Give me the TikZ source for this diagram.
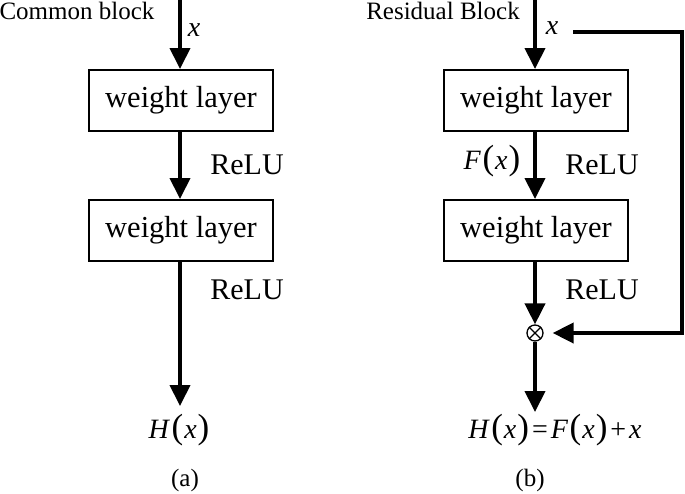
\documentclass[tikz,border=0pt]{standalone}
\usepackage{fontspec}
\setmainfont{Liberation Serif}
\usetikzlibrary{arrows.meta}
\newcommand{\bigpar}[1]{{\fontsize{35}{35}\selectfont #1}}
\newcommand{\fofx}[1]{\textit{#1}\hspace{1.5pt}\bigpar{(}\hspace{1pt}\textit{x}\hspace{1pt}\bigpar{)}}
\begin{document}
\begin{tikzpicture}[x=1pt,y=-1pt,
  layerbox/.style={draw,line width=2pt,minimum width=184pt,minimum height=61pt,inner sep=0pt,font=\fontsize{30.5}{30.5}\selectfont},
  lbl/.style={inner sep=0pt,font=\fontsize{30}{30}\selectfont},
  mlbl/.style={inner sep=0pt,font=\fontsize{28}{28}\selectfont},
  ttl/.style={inner sep=0pt,font=\fontsize{25}{25}\selectfont},
  flow/.style={line width=4pt,-{Triangle[length=21pt,width=20pt]}},
  skip/.style={line width=4pt}]
\useasboundingbox (0,0) rectangle (685,493);
% ---------- (a) ----------
\node[ttl] (ta) at (77,11) {Common block};
\coordinate (ina) at (180,0);
\node[layerbox] (a1) at (181,100.5) {weight layer};
\node[layerbox] (a2) at (181,230.5) {weight layer};
\node[mlbl] (xa) at (194,30) {\textit{x}};
\node[lbl] (ra1) at (247,165) {ReLU};
\node[lbl] (ra2) at (247,290) {ReLU};
\node[mlbl,anchor=north] (Ha) at (179,414) {\fofx{H}};
\node[ttl] (capa) at (185,480) {(a)};
\draw[flow] (ina) -- (a1.north -| ina);
\draw[flow] (a1.south -| ina) -- (a2.north -| ina);
\draw[flow] (a2.south -| ina) -- ([yshift=8pt]Ha.north -| ina);
% ---------- (b) ----------
\node[ttl] (tb) at (443,11) {Residual Block};
\coordinate (inb) at (535,0);
\node[layerbox] (b1) at (536,100.5) {weight layer};
\node[layerbox] (b2) at (536,230.5) {weight layer};
\node[mlbl] (xb) at (552,28) {\textit{x}};
\node[mlbl] (fx) at (492,161) {\fofx{F}};
\node[lbl] (rb1) at (602,165) {ReLU};
\node[lbl] (rb2) at (602,290) {ReLU};
\node[draw,circle,line width=1.3pt,minimum size=16pt,inner sep=0pt] (c) at (535,333) {};
\draw[line width=1.3pt] (c.north east) -- (c.south west) (c.north west) -- (c.south east);
\node[mlbl,anchor=north] (Hb) at (555,414) {\fofx{H}\hspace{3pt}=\hspace{3pt}\fofx{F}\hspace{3pt}+\hspace{3pt}\textit{x}};
\coordinate (hbtop) at (535,412);
\node[ttl] (capb) at (530,480) {(b)};
\coordinate (sks) at (573,32);
\coordinate (skc) at (682,32);
\draw[flow] (inb) -- (b1.north -| inb);
\draw[flow] (b1.south -| inb) -- (b2.north -| inb);
\draw[flow] (b2.south -| inb) -- (c.north);
\draw[flow] (c.south) -- (hbtop);
\draw[skip,-{Triangle[length=21pt,width=20pt]},shorten >=9pt] (sks) -- (skc) |- (c.east);
\end{tikzpicture}
\end{document}
